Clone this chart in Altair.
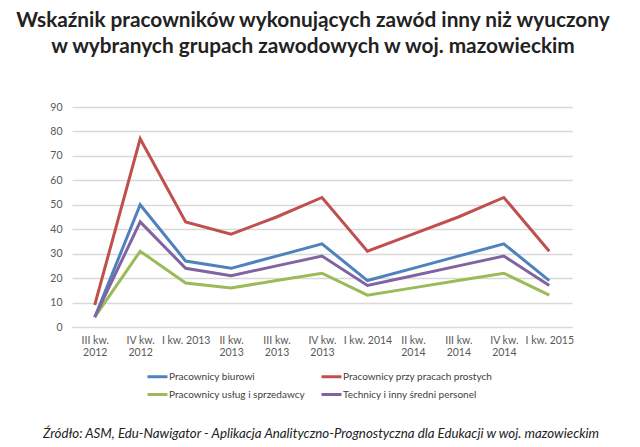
import altair as alt
import pandas as pd

categories = ["III kw. 2012", "IV kw. 2012", "I kw. 2013", "II kw. 2013", "III kw. 2013",
              "IV kw. 2013", "I kw. 2014", "II kw. 2014", "III kw. 2014", "IV kw. 2014", "I kw. 2015"]
series_names = ["Pracownicy biurowi", "Pracownicy usług i sprzedawcy",
                "Pracownicy przy pracach prostych", "Technicy i inny średni personel"]
biurowi = [4, 50, 27, 24, 29, 34, 19, 24, 29, 34, 19]
uslugi = [4, 31, 18, 16, 19, 22, 13, 16, 19, 22, 13]
proste = [9, 77, 43, 38, 45, 53, 31, 38, 45, 53, 31]
technicy = [4, 43, 24, 21, 25, 29, 17, 21, 25, 29, 17]
colors = ["#4F81BD", "#9BBB59", "#C0504D", "#8064A2"]

title_lines = ["Wskaźnik pracowników wykonujących zawód inny niż wyuczony",
               "w wybranych grupach zawodowych w  woj. mazowieckim"]
source_text = "Źródło: ASM, Edu-Nawigator - Aplikacja Analityczno-Prognostyczna dla Edukacji w woj. mazowieckim"

rows = []
for name, vals in zip(series_names, [biurowi, uslugi, proste, technicy]):
    for c, v in zip(categories, vals):
        rows.append({"kw": c, "seria": name, "wartosc": v})
df = pd.DataFrame(rows)

FONT = "Lato"

label_expr = ("indexof(datum.label, 'I kw.') === 0 ? datum.label : "
              "[slice(datum.label, 0, indexof(datum.label, ' 20')), "
              "slice(datum.label, indexof(datum.label, ' 20') + 1)]")

lines = alt.Chart(df).mark_line(strokeWidth=3).encode(
    x=alt.X("kw:N", sort=categories, scale=alt.Scale(type="point", padding=0.5),
            axis=alt.Axis(title=None, labelAngle=0, labelExpr=label_expr, domain=True,
                          domainColor="#d9d9d9", ticks=False, labelPadding=8,
                          labelFontSize=10.5, labelColor="#595959", labelFont=FONT,
                          labelLineHeight=12, labelFontWeight="normal")),
    y=alt.Y("wartosc:Q", scale=alt.Scale(domain=[0, 90], nice=False),
            axis=alt.Axis(title=None, values=list(range(0, 91, 10)), domain=False, ticks=False,
                          grid=True, gridColor="#d9d9d9", gridWidth=1.5, labelPadding=10,
                          labelFontSize=10.5, labelColor="#595959", labelFont=FONT)),
    color=alt.Color("seria:N", scale=alt.Scale(domain=series_names, range=colors), sort=series_names,
                    legend=alt.Legend(title=None, orient="none", legendX=74, legendY=258,
                                      columns=2, columnPadding=10, rowPadding=0,
                                      symbolType="stroke", symbolSize=400, symbolStrokeWidth=3,
                                      labelFontSize=10, labelColor="#404040", labelFont=FONT,
                                      labelOffset=0)),
)

src = alt.Chart(pd.DataFrame({"t": [source_text]})).mark_text(
    font=FONT, fontSize=13.3, fontStyle="italic", color="#222222", align="center", baseline="middle"
).encode(text="t:N", x=alt.value(249), y=alt.value(327))

chart = alt.layer(lines, src).properties(
    width=500, height=220,
    title=alt.TitleParams(title_lines, font=FONT, fontSize=20.8, fontWeight="bold", color="#222222",
                          anchor="middle", lineHeight=26, offset=44, dx=-9),
    padding={"left": 64, "top": 99, "right": 60, "bottom": 118},
    autosize=alt.AutoSizeParams(type="none"),
).configure_view(stroke=None)

chart.save("out.html", embed_options={"renderer": "svg", "actions": False})
